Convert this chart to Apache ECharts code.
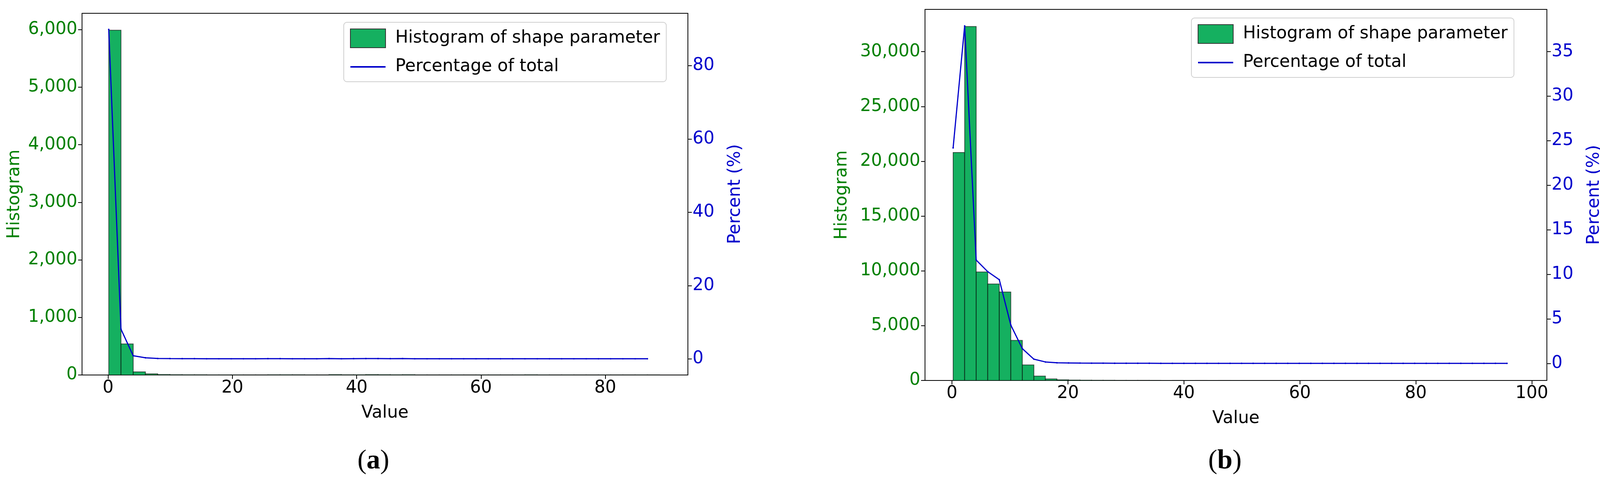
<!DOCTYPE html>
<html>
<head>
<meta charset="utf-8">
<script src="https://cdn.jsdelivr.net/npm/echarts@6/dist/echarts.min.js"></script>
<style>
  html, body { margin: 0; padding: 0; background: #fff; }
  #chart { width: 4111px; height: 1248px; }
</style>
</head>
<body>
<div id="chart"></div>
<script>
// panel (a): histogram bins
const binStartA = 0.1;
const binWidthA = 1.97;
const countsA = [5990, 540, 55, 20, 8, 5, 4, 3, 2, 2, 1, 1, 1, 4, 4, 3, 2, 1, 6, 3, 4, 6, 5, 4, 5, 2, 1, 1, 1, 1, 2, 1, 1, 2, 3, 2, 1, 1, 1, 1, 1, 1, 1, 1, 1];
const percentA = [89.9, 8.1, 0.85, 0.3, 0.12, 0.08, 0.06, 0.05, 0.03, 0.03, 0.02, 0.02, 0.02, 0.05, 0.05, 0.04, 0.03, 0.02, 0.08, 0.04, 0.06, 0.08, 0.07, 0.06, 0.07, 0.03, 0.02, 0.02, 0.02, 0.02, 0.03, 0.02, 0.02, 0.03, 0.04, 0.03, 0.02, 0.02, 0.02, 0.02, 0.02, 0.02, 0.02, 0.02, 0.02];

// panel (b): histogram bins
const binStartB = 0.2;
const binWidthB = 1.99;
const countsB = [20800, 32300, 9900, 8800, 8070, 3660, 1420, 400, 140, 60, 40, 30, 20, 15, 10, 8, 6, 5, 4, 3, 3, 2, 2, 2, 2, 1, 1, 1, 1, 1, 1, 1, 1, 1, 1, 1, 1, 1, 1, 1, 1, 1, 1, 1, 1, 1, 1, 1, 1];
const percentB = [24.2, 37.9, 11.6, 10.3, 9.4, 4.3, 1.65, 0.47, 0.16, 0.07, 0.05, 0.03, 0.02, 0.02, 0.01, 0.01, 0.01, 0.01, 0, 0, 0, 0, 0, 0, 0, 0, 0, 0, 0, 0, 0, 0, 0, 0, 0, 0, 0, 0, 0, 0, 0, 0, 0, 0, 0, 0, 0, 0, 0];

const xTicksA = [0, 20, 40, 60, 80];
const xTicksB = [0, 20, 40, 60, 80, 100];
const countTicksA = [0, 1000, 2000, 3000, 4000, 5000, 6000];
const countTicksB = [0, 5000, 10000, 15000, 20000, 25000, 30000];
const pctTicksA = [0, 20, 40, 60, 80];
const pctTicksB = [0, 5, 10, 15, 20, 25, 30, 35];

const GREEN = '#008000';
const BLUE = '#0000cc';
const FONT = 'DejaVu Sans';
const FS = 44;

function bins(start, w, counts) {
  return counts.map((c, i) => [start + i * w, start + (i + 1) * w, c]);
}
function pts(start, w, pct) {
  return pct.map((p, i) => [start + i * w, p]);
}
const fmt = v => Math.round(v).toLocaleString('en-US');

function xAxis(gi, min, max, ticks) {
  return {
    type: 'value', gridIndex: gi, min: min, max: max,
    name: 'Value', nameLocation: 'middle', nameGap: 76,
    nameTextStyle: { fontFamily: FONT, fontSize: FS, color: '#000' },
    axisLine: { show: true, onZero: false, lineStyle: { color: '#000', width: 2 } },
    axisTick: { show: true, length: 10, customValues: ticks, lineStyle: { color: '#000', width: 2 } },
    axisLabel: { customValues: ticks, fontFamily: FONT, fontSize: FS, color: '#000', margin: 12 },
    splitLine: { show: false }
  };
}
function countAxis(gi, max, ticks, gap) {
  return {
    type: 'value', gridIndex: gi, position: 'left', min: 0, max: max,
    name: 'Histogram', nameLocation: 'middle', nameGap: gap, nameRotate: 90,
    nameTextStyle: { fontFamily: FONT, fontSize: FS, color: GREEN },
    axisLine: { show: true, onZero: false, lineStyle: { color: '#000', width: 2 } },
    axisTick: { show: true, length: 10, customValues: ticks, lineStyle: { color: '#000', width: 2 } },
    axisLabel: { customValues: ticks, formatter: fmt, fontFamily: FONT, fontSize: FS, color: GREEN, margin: 12 },
    splitLine: { show: false }
  };
}
function pctAxis(gi, min, max, ticks) {
  return {
    type: 'value', gridIndex: gi, position: 'right', min: min, max: max,
    name: 'Percent (%)', nameLocation: 'middle', nameGap: 100, nameRotate: 90,
    nameTextStyle: { fontFamily: FONT, fontSize: FS, color: BLUE },
    axisLine: { show: true, onZero: false, lineStyle: { color: '#000', width: 2 } },
    axisTick: { show: true, length: 10, customValues: ticks, lineStyle: { color: '#000', width: 2 } },
    axisLabel: { customValues: ticks, fontFamily: FONT, fontSize: FS, color: BLUE, margin: 12 },
    splitLine: { show: false }
  };
}
function histSeries(xi, yi, data) {
  return {
    name: 'Histogram of shape parameter', type: 'custom',
    xAxisIndex: xi, yAxisIndex: yi, data: data,
    itemStyle: { color: '#15b060' },
    renderItem: function (params, api) {
      const p0 = api.coord([api.value(0), 0]);
      const p1 = api.coord([api.value(1), api.value(2)]);
      return {
        type: 'rect',
        shape: { x: p0[0], y: p1[1], width: p1[0] - p0[0], height: p0[1] - p1[1] },
        style: { fill: '#15b060', stroke: 'rgba(0,0,0,0.6)', lineWidth: 2 }
      };
    }
  };
}
function lineSeries(xi, yi, data) {
  return {
    name: 'Percentage of total', type: 'line',
    xAxisIndex: xi, yAxisIndex: yi, data: data,
    symbol: 'circle', symbolSize: 4, z: 5,
    lineStyle: { color: BLUE, width: 3 }, itemStyle: { color: BLUE }
  };
}
function legend(left, top) {
  return {
    left: left, top: top, orient: 'vertical',
    backgroundColor: '#fff', borderColor: '#d0d0d0', borderWidth: 2, borderRadius: 8,
    padding: [16, 16, 16, 16], itemGap: 26, itemWidth: 90, itemHeight: 48,
    textStyle: { fontFamily: FONT, fontSize: FS, color: '#000', padding: [0, 0, 0, 20] },
    data: [
      { name: 'Histogram of shape parameter', icon: 'rect', itemStyle: { color: '#15b060', borderColor: '#333', borderWidth: 2 } },
      { name: 'Percentage of total', icon: 'path://M0,22 L90,22 L90,26 L0,26 Z', itemStyle: { color: BLUE } }
    ]
  };
}

const chart = echarts.init(document.getElementById('chart'));
chart.setOption({
  backgroundColor: '#fff',
  animation: false,
  grid: [
    { left: 210, top: 34, width: 1551, height: 925, show: true, borderColor: '#000', borderWidth: 2 },
    { left: 2368, top: 24, width: 1592, height: 949, show: true, borderColor: '#000', borderWidth: 2 }
  ],
  legend: [legend(880, 57), legend(3050, 46)],
  xAxis: [
    xAxis(0, -4.2, 93.3, xTicksA),
    xAxis(1, -4.65, 102.6, xTicksB)
  ],
  yAxis: [
    countAxis(0, 6283, countTicksA, 150),
    pctAxis(0, -4.4, 94.3, pctTicksA),
    countAxis(1, 33857, countTicksB, 190),
    pctAxis(1, -1.92, 39.75, pctTicksB)
  ],
  series: [
    histSeries(0, 0, bins(binStartA, binWidthA, countsA)),
    lineSeries(0, 1, pts(binStartA, binWidthA, percentA)),
    histSeries(1, 2, bins(binStartB, binWidthB, countsB)),
    lineSeries(1, 3, pts(binStartB, binWidthB, percentB))
  ],
  graphic: [
    { type: 'text', left: 915, top: 1145, style: { text: '{p|(}{b|a}{p|)}', rich: {
      p: { fontFamily: 'Liberation Serif', fontSize: 70, fill: '#000' },
      b: { fontFamily: 'Liberation Serif', fontSize: 70, fontWeight: 'bold', fill: '#000' } } } },
    { type: 'text', left: 3093, top: 1145, style: { text: '{p|(}{b|b}{p|)}', rich: {
      p: { fontFamily: 'Liberation Serif', fontSize: 70, fill: '#000' },
      b: { fontFamily: 'Liberation Serif', fontSize: 70, fontWeight: 'bold', fill: '#000' } } } }
  ]
});
</script>
</body>
</html>
